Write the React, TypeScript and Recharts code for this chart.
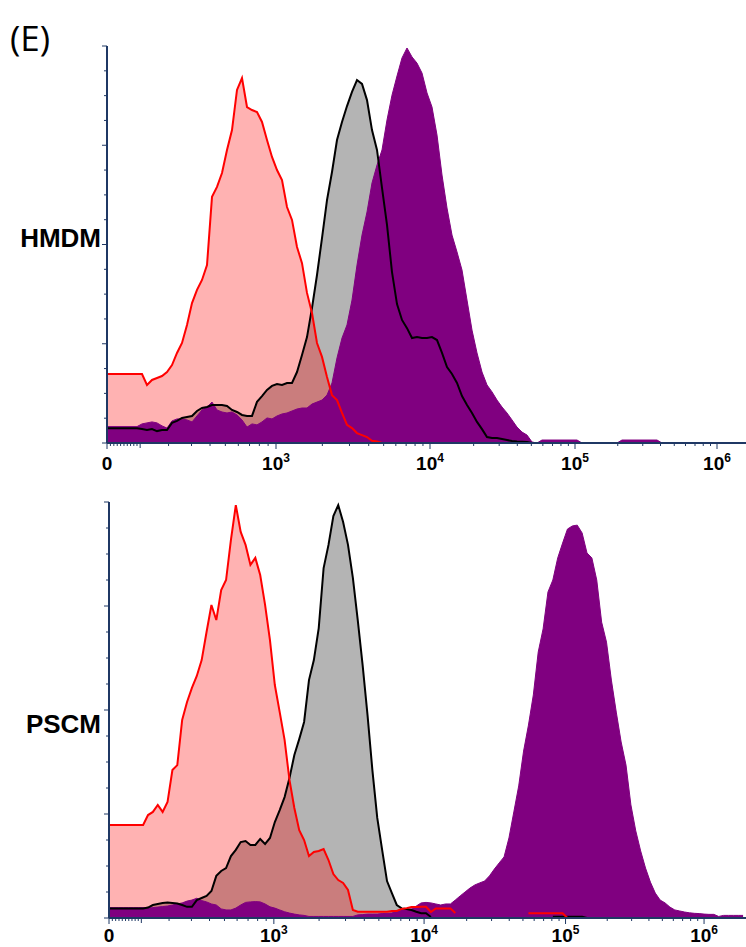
import React from 'react';
import { ComposedChart, Area, Line, XAxis, YAxis } from 'recharts';

const AXIS = '#1f3864';
const GREY = '#b4b4b4';
const PURPLE = '#800080';
const RED = '#ff0000';
const FONT = '"Liberation Sans", Arial, sans-serif';

// histogram bins are every 5 channels on the display axis
const BIN = 5;

// HMDM panel (top)
const hmdmRed = [
  27.8, 27.8, 27.8, 27.8, 27.8, 27.8, 27.8, 27.8,
  23.4, 25.4, 26.2, 27.0, 28.6, 31.4, 36.3, 40.3, 47.6, 56.4, 61.7, 65.7,
  71.7, 99.2, 103.2, 108.8, 118.1, 126.1, 142.3, 147.1, 135.4, 134.2,
  133.4, 129.4, 122.1, 115.3, 110.0, 106.0, 95.1, 89.9, 79.0, 72.5,
  60.5, 52.4, 40.3, 34.7, 26.6, 19.3, 17.3, 12.1, 7.3, 6.0,
  4.0, 3.2, 2.4, 0.9, 0.6, 0,
];
const hmdmBlack = [
  5.9, 5.9, 5.9, 5.9, 5.9, 5.9, 5.9,
  5.6, 5.2, 5.6, 4.8, 5.2, 5.2,
  8.1, 8.9, 10.1, 10.5, 10.9, 12.9, 14.1, 14.5, 15.3, 15.3, 15.3, 14.9, 13.3, 12.5, 11.3, 10.9, 10.9,
  16.6, 18.9, 21.4, 23.0, 23.8, 23.4, 24.2, 24.2, 28.6, 35.5,
  42.7, 54.4, 67.7, 82.6, 97.9, 109.2, 122.1, 129.4, 135.8, 141.5,
  146.3, 144.7, 138.2, 126.1, 118.1, 102.8, 87.9, 68.9, 56.0, 49.6,
  46.3, 42.3, 42.7, 42.3, 42.3, 42.7, 41.5, 36.3, 30.6, 27.8,
  24.2, 18.9, 15.3, 12.1, 8.5, 5.6, 2.4, 2.0, 2.0, 1.6,
  1.2, 0.8, 0.6, 0.5, 0.4, 0,
];
const hmdmPurple = [
  6.6, 6.6, 6.6, 6.6, 6.6, 6.6, 6.6,
  7.7, 8.1, 8.5, 8.1, 6.9, 6.0, 8.9, 9.7, 9.7, 9.3, 8.5, 10.9, 13.3,
  14.5, 16.5, 13.3, 12.5, 12.1, 12.5, 11.3, 9.3, 6.4, 7.7,
  7.3, 8.5, 10.1, 9.7, 10.9, 11.7, 12.1, 12.9, 13.7, 14.1,
  14.1, 15.7, 16.5, 17.3, 19.3, 24.2, 34.3, 42.3, 47.6, 57.6,
  71.7, 83.8, 93.1, 104.8, 112.0, 118.1, 130.2, 140.2, 147.9, 155.2,
  159.2, 155.6, 153.1, 149.1, 141.1, 135.4, 124.1, 108.0, 94.7, 83.8,
  77.0, 69.7, 57.6, 45.5, 36.3, 28.6, 23.4, 20.6, 17.3, 14.5,
  12.1, 9.3, 6.4, 4.4, 3.2, 0.4, 0,
  1.2, 1.2, 1.2, 1.2, 1.2, 1.2, 1.2, 1.2,
  0, 0, 0, 0, 0, 0, 0, 0,
  1.2, 1.2, 1.2, 1.2, 1.2, 1.2, 1.2, 1.2, 0,
];

// PSCM panel (bottom)
const pscmRed = [
  35.8, 35.8, 35.8, 35.8, 35.8, 35.8, 35.8, 35.8,
  39.6, 40.8, 43.5, 40.8, 44.6, 56.9, 58.8, 76.2, 83.1, 88.5, 93.1, 99.2,
  110.0, 120.4, 114.6, 126.1, 130.0, 145.4, 158.8, 148.5, 143.5, 135.8,
  138.5, 131.9, 120.4, 106.9, 89.6, 79.2, 68.5, 53.1, 42.3, 33.8,
  30.0, 23.8, 25.4, 25.8, 26.5, 22.3, 16.9, 14.6, 13.5, 10.8,
  3.1, 2.4, 2.4, 2.4, 2.4, 2.4, 2.4, 2.4, 2.7, 2.7,
  3.5, 3.8, 4.2, 4.2, 4.3, 4.3, 2.3, 3.7, 3.7, 3.7,
  3.7, 1.9,
  null, null, null, null, null, null, null, null, null, null, null, null, null, null,
  1.8, 1.8, 1.8, 1.8, 1.8, 1.8, 1.8, 1.8, 0,
];
const pscmBlack = [
  3.7, 3.7, 3.7, 3.7, 3.7, 3.7, 3.7, 3.7,
  4.0, 5.0, 5.4, 5.8, 6.0, 5.8, 5.6, 5.0, 4.3, 4.3,
  6.9, 7.7, 8.5, 10.4, 16.2, 18.1, 19.2, 23.8, 26.2, 29.2,
  29.6, 28.1, 28.1, 30.4, 28.5, 30.8, 36.9, 41.5, 46.5, 53.8,
  62.7, 68.8, 75.4, 91.5, 99.2, 111.5, 134.6, 143.5, 154.6, 158.8,
  152.3, 143.5, 130.8, 114.6, 97.3, 78.1, 56.9, 38.5, 26.2, 14.2,
  9.6, 5.0, 3.7, 3.5, 3.1, 2.4, 1.8, 1.8, 0.4,
  null, null, null, null, null, null, null, null, null, null, null, null,
  null, null, null, null, null, null, null, null, null, null, null, null,
  0.5, 0.5, 0.5, 0.5, 0.5, 0.5, 0.5, 0,
];
const pscmPurple = [
  4.0, 4.0, 4.0, 4.0, 4.0, 4.0, 4.0, 4.0,
  3.8, 4.0, 4.2, 4.4, 4.6, 5.0, 5.4, 5.8, 6.5, 6.9,
  7.6, 6.7, 6.2, 5.4, 5.0, 3.5, 3.1, 3.1, 3.8, 5.0,
  6.0, 6.2, 6.3, 6.2, 5.4, 4.3, 3.8, 3.1, 2.4, 1.9,
  1.5, 1.2, 1.0, 0.6, 0.6, 0.6, 0.6, 0.6, 0.6, 0.6, 0.6, 0.6, 0.6,
  1.2, 1.3, 1.5, 1.5, 1.5, 1.7, 1.8, 1.9, 2.7,
  3.1, 3.1, 3.5, 4.6, 5.8, 6.0, 5.8, 5.4, 5.0, 5.4,
  5.4, 6.9, 8.5, 10.0, 11.5, 12.7, 13.5, 14.2, 16.2, 18.8,
  21.2, 23.5, 30.8, 40.8, 50.8, 64.2, 74.2, 85.8, 102.3, 111.2,
  125.4, 130.0, 138.5, 144.2, 149.6, 150.8, 151.1, 148.1, 140.4, 138.5,
  130.0, 113.8, 106.1, 91.5, 79.2, 67.7, 58.8, 43.5, 33.5, 25.8,
  19.2, 13.8, 9.6, 6.9, 5.8, 4.2, 3.1, 2.7, 2.3, 2.0,
  1.8, 1.7, 1.5, 1.4, 1.4, 0.6, 1.0, 1.0, 1.0, 1.0, 1.0,
];

// axis: labelled decades and where they sit on the channel scale
const MAJOR_VALUES = [0, 1e3, 1e4, 1e5, 1e6];
const MAJOR_LABELS = ['0', '3', '4', '5', '6'];
const DECADE_CHANNELS = [169, 323, 468, 610];
const Y_TICKS = [0, 10, 20, 30, 40, 50, 60, 70, 80, 90, 100, 110, 120, 130, 140, 150, 160];

// biexponential-like display transform (linear-ish near zero, log above 1000)
const LIN_W = 225;
const LIN_B = DECADE_CHANNELS[0] / Math.asinh(1000 / LIN_W);
const toChannel = (v: number) => {
  if (v <= 1000) return LIN_B * Math.asinh(v / LIN_W);
  const d = Math.min(Math.floor(Math.log10(v)) - 3, DECADE_CHANNELS.length - 2);
  const c0 = DECADE_CHANNELS[d];
  const c1 = DECADE_CHANNELS[d + 1];
  return c0 + (c1 - c0) * Math.log10(v / Math.pow(10, d + 3));
};

type TickInfo = { c: number; kind: 'major' | 'mid' | 'minor'; label?: string };
const buildTicks = (): TickInfo[] => {
  const out: TickInfo[] = [];
  MAJOR_VALUES.forEach((v, i) => out.push({ c: toChannel(v), kind: 'major', label: MAJOR_LABELS[i] }));
  for (let m = 1; m <= 9; m++) out.push({ c: toChannel(m * 10), kind: 'minor' });
  out.push({ c: toChannel(100), kind: 'mid' });
  for (let m = 2; m <= 9; m++) {
    out.push({ c: toChannel(m * 100), kind: 'minor' });
    out.push({ c: toChannel(m * 1e3), kind: 'minor' });
    out.push({ c: toChannel(m * 1e4), kind: 'minor' });
    out.push({ c: toChannel(m * 1e5), kind: 'minor' });
  }
  return out.sort((a, b) => a.c - b.c);
};
const X_TICKS = buildTicks();

const buildRows = (red: (number | null)[], black: (number | null)[], purple: (number | null)[], max: number) => {
  const rows = [];
  for (let i = 0; i * BIN <= max; i++) {
    rows.push({
      c: i * BIN,
      red: i < red.length ? red[i] : null,
      black: i < black.length ? black[i] : null,
      purple: i < purple.length ? purple[i] : null,
    });
  }
  return rows;
};

const makeXTick = (labelOffset: number) => (props: any) => {
  const { x, y, index } = props;
  const t = X_TICKS[index];
  if (!t) return null;
  const len = t.kind === 'major' ? 6 : t.kind === 'mid' ? 5 : 3;
  return (
    <g>
      <line x1={x} x2={x} y1={y} y2={y + len} stroke={AXIS} strokeWidth={1} />
      {t.label && (
        <text x={x} y={y + labelOffset} textAnchor="middle" fontFamily={FONT} fontWeight="bold" fontSize={19} fill="#000">
          {t.label === '0' ? '0' : (
            <>
              10<tspan dy={-8} fontSize={12}>{t.label}</tspan>
            </>
          )}
        </text>
      )}
    </g>
  );
};
const TopXTick = makeXTick(27);
const BottomXTick = makeXTick(24);

const YTick = (props: any) => {
  const { x, y, payload } = props;
  const len = payload.value % 40 === 0 ? 5 : 3;
  return <line x1={x - len} x2={x} y1={y} y2={y} stroke={AXIS} strokeWidth={1} />;
};

type PanelProps = {
  rows: any[];
  top: number;
  height: number;
  plotTop: number;
  plotHeight: number;
  left: number;
  domainMax: number;
  XTick: (p: any) => any;
};

const Panel = ({ rows, top, height, plotTop, plotHeight, left, domainMax, XTick }: PanelProps) => (
  <div style={{ position: 'absolute', left: 0, top, width: 746, height }}>
    <ComposedChart width={746} height={height} data={rows} margin={{ top: plotTop, right: 0, bottom: 0, left: 0 }}>
      <XAxis
        type="number"
        dataKey="c"
        domain={[0, domainMax]}
        allowDataOverflow
        ticks={X_TICKS.map((t) => t.c)}
        interval={0}
        tickLine={false}
        tickSize={0}
        tickMargin={0}
        tick={<XTick />}
        axisLine={{ stroke: AXIS, strokeWidth: 2 }}
        height={height - plotTop - plotHeight}
      />
      <YAxis
        type="number"
        domain={[0, 160]}
        ticks={Y_TICKS}
        interval={0}
        width={left}
        tickLine={false}
        tickSize={0}
        tickMargin={0}
        tick={<YTick />}
        axisLine={{ stroke: AXIS, strokeWidth: 2 }}
      />
      <Area type="linear" dataKey="black" fill={GREY} fillOpacity={1} stroke="none" isAnimationActive={false} />
      <Area type="linear" dataKey="red" fill={RED} fillOpacity={0.3} stroke="none" isAnimationActive={false} />
      <Area type="linear" dataKey="purple" fill={PURPLE} fillOpacity={1} stroke={PURPLE} strokeWidth={1} isAnimationActive={false} />
      <Line type="linear" dataKey="black" stroke="#000" strokeWidth={2} dot={false} isAnimationActive={false} />
      <Line type="linear" dataKey="red" stroke={RED} strokeWidth={2} dot={false} isAnimationActive={false} />
    </ComposedChart>
  </div>
);

export default function App() {
  const topRows = buildRows(hmdmRed, hmdmBlack, hmdmPurple, 639);
  const bottomRows = buildRows(pscmRed, pscmBlack, pscmPurple, 653);
  return (
    <div style={{ position: 'absolute', left: 0, top: 0, width: 746, height: 947, background: '#fff', overflow: 'hidden' }}>
      <Panel rows={topRows} top={0} height={480} plotTop={46} plotHeight={397} left={107} domainMax={639} XTick={TopXTick} />
      <Panel rows={bottomRows} top={480} height={467} plotTop={22} plotHeight={416} left={109} domainMax={653} XTick={BottomXTick} />
      <svg width={746} height={947} style={{ position: 'absolute', left: 0, top: 0, pointerEvents: 'none' }}>
        <text x={10} y={51} fontFamily='"Open Sans", "Noto Sans", sans-serif' fontSize={35} fill="#000">(E)</text>
        <text x={101} y={247} textAnchor="end" fontFamily={FONT} fontWeight="bold" fontSize={26} fill="#000">HMDM</text>
        <text x={101} y={733} textAnchor="end" fontFamily={FONT} fontWeight="bold" fontSize={26} fill="#000">PSCM</text>
      </svg>
    </div>
  );
}
